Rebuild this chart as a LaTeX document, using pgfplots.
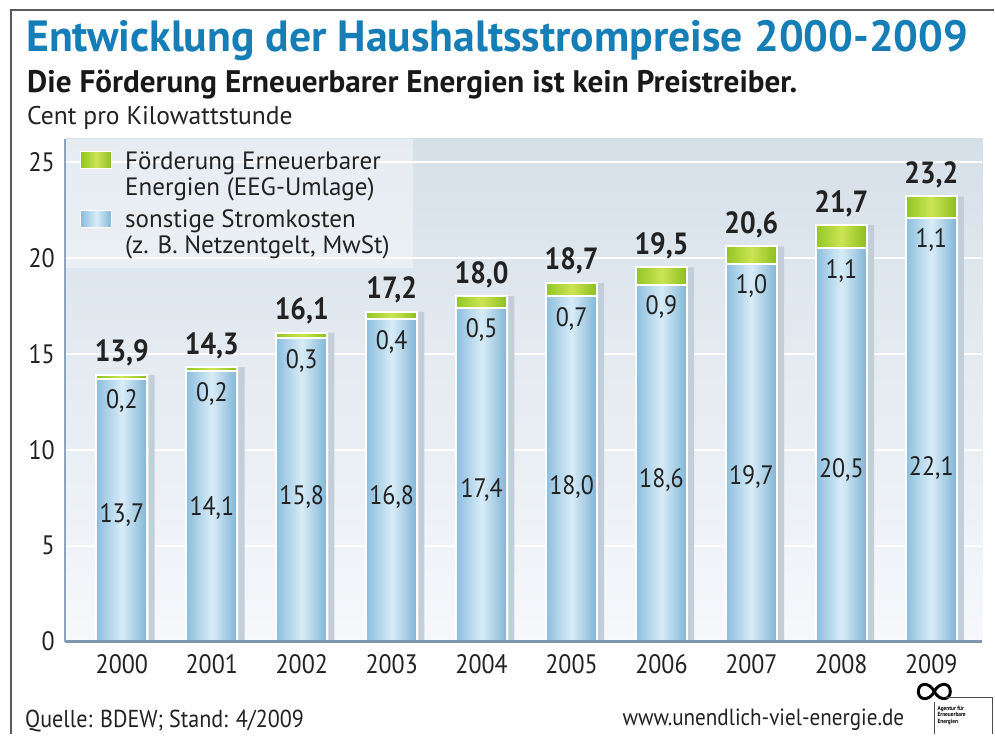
\documentclass[border=0pt]{standalone}
\usepackage{pgfplots}
\pgfplotsset{compat=1.18}
\usepackage{pgfplotstable}
\usepackage{fontspec}
\setmainfont{PT Sans}[FakeStretch=0.9]
\newfontfamily\wide{PT Sans}
\definecolor{titleblue}{RGB}{22,126,182}
\definecolor{txt}{RGB}{34,34,34}
\definecolor{bgtop}{RGB}{214,224,233}
\definecolor{bgbot}{RGB}{246,248,251}
\definecolor{axisline}{RGB}{126,152,178}
\definecolor{edgeline}{RGB}{140,164,188}
\definecolor{shadowc}{RGB}{196,206,217}
\definecolor{blueL}{RGB}{140,190,221}
\definecolor{blueM}{RGB}{216,236,247}
\definecolor{blueR}{RGB}{128,180,213}
\definecolor{greenL}{RGB}{146,198,36}
\definecolor{greenM}{RGB}{204,228,84}
\definecolor{greenR}{RGB}{138,190,30}

\pgfplotstableread{
x base total lab bl el tl
0 13.7 13.9 6.60 13,7 0,2 13,9
1 14.1 14.3 6.98 14,1 0,2 14,3
2 15.8 16.1 7.55 15,8 0,3 16,1
3 16.8 17.2 7.55 16,8 0,4 17,2
4 17.4 18.0 7.90 17,4 0,5 18,0
5 18.0 18.7 8.07 18,0 0,7 18,7
6 18.6 19.5 8.44 18,6 0,9 19,5
7 19.7 20.6 8.60 19,7 1,0 20,6
8 20.5 21.7 8.96 20,5 1,1 21,7
9 22.1 23.2 9.06 22,1 1,1 23,2
}\data

\begin{document}
\begin{tikzpicture}
\begin{scope}[x=0.75pt,y=-0.75pt]
\useasboundingbox (0,0) rectangle (995,735);
\fill[white] (0,0) rectangle (995,735);
\end{scope}
\begin{axis}[
  at={(48.75pt,-481.5pt)}, anchor=south west,
  width=688.5pt, height=377.25pt, scale only axis,
  xmin=-0.633, xmax=9.567, ymin=0, ymax=26.2,
  axis background/.style={top color=bgtop, bottom color=bgbot},
  axis line style={draw=none},
  major tick length=0pt,
  ytick={0,5,10,15,20,25},
  xtick={0,1,2,3,4,5,6,7,8,9},
  xticklabels={2000,2001,2002,2003,2004,2005,2006,2007,2008,2009},
  ymajorgrids, grid style={white, line width=1.5pt},
  ticklabel style={font=\fontsize{20}{24}\selectfont, text=txt},
  /pgf/number format/assume math mode=true,
  yticklabel style={anchor=east, inner sep=0pt, xshift=-7.5pt},
  xticklabel style={anchor=north, inner sep=0pt, yshift=-9.75pt},
  clip=false,
]
\addplot[ybar, bar width=0.067, bar shift=0.33, fill=shadowc, draw=none] table[x=x,y=total]{\data};
\pgfplotsinvokeforeach{0,1,2,3,4,5,6,7,8,9}{
\addplot[ybar, bar width=0.567, bar shift=0, draw=white, line width=1.5pt,
  left color=greenL, right color=greenR, middle color=greenM,
  x filter/.expression={x==#1 ? x : nan}] table[x=x,y=total]{\data};
}
\pgfplotsinvokeforeach{0,1,2,3,4,5,6,7,8,9}{
\addplot[ybar, bar width=0.567, bar shift=0, draw=white, line width=1.5pt,
  left color=blueL, right color=blueR, middle color=blueM,
  x filter/.expression={x==#1 ? x : nan}] table[x=x,y=base]{\data};
}
\draw[axisline, line width=2.25pt] (rel axis cs:0,0) -- (rel axis cs:1,0);
\draw[edgeline, line width=1.5pt] (rel axis cs:0,0) -- (rel axis cs:0,1);
\addplot[draw=none, nodes near coords, point meta=explicit symbolic,
  nodes near coords style={anchor=center, inner sep=0pt, font=\fontsize{20}{24}\selectfont, text=txt}]
  table[x=x,y=lab,meta=bl]{\data};
\addplot[draw=none, nodes near coords, point meta=explicit symbolic,
  nodes near coords style={anchor=north, inner sep=0pt, yshift=-8.25pt, font=\fontsize{20}{24}\selectfont, text=txt}]
  table[x=x,y=base,meta=el]{\data};
\addplot[draw=none, nodes near coords, point meta=explicit symbolic,
  nodes near coords style={anchor=base, inner sep=0pt, yshift=9.75pt, font=\bfseries\fontsize{23}{27}\selectfont, text=txt}]
  table[x=x,y=total,meta=tl]{\data};
\end{axis}
\begin{scope}[x=0.75pt,y=-0.75pt]
% frame
\draw[black!65, line width=1.1pt] (11,735) -- (11,10) -- (995,10);
% titles
\node[anchor=base west, inner sep=0pt, text=titleblue, font=\wide\bfseries\fontsize{32.8}{36}\selectfont] at (26,52) {Entwicklung der Haushaltsstrompreise 2000-2009};
\node[anchor=base west, inner sep=0pt, text=black!90, font=\wide\bfseries\fontsize{23.4}{26}\selectfont] at (27,93) {Die Förderung Erneuerbarer Energien ist kein Preistreiber.};
\node[anchor=base west, inner sep=0pt, text=txt, font=\wide\fontsize{19.2}{22}\selectfont] at (27,125) {Cent pro Kilowattstunde};
% legend
\fill[white, opacity=0.4] (66.5,139) rectangle (413,268);
\shade[left color=greenL, right color=greenR, middle color=greenM] (81,152) rectangle (112,169);
\draw[white, line width=0.75pt] (81,152) rectangle (112,169);
\shade[left color=blueL, right color=blueR, middle color=blueM] (81,211) rectangle (112,228);
\draw[white, line width=0.75pt] (81,211) rectangle (112,228);
\begin{scope}[every node/.style={anchor=base west, inner sep=0pt, text=txt, font=\wide\fontsize{18.8}{22}\selectfont}]
\node at (125,170) {Förderung Erneuerbarer};
\node at (125,196) {Energien (EEG-Umlage)};
\node at (125,228) {sonstige Stromkosten};
\node at (125,254) {(z. B. Netzentgelt, MwSt)};
\end{scope}
% footer
\node[anchor=base west, inner sep=0pt, text=txt, font=\fontsize{18.4}{22}\selectfont] at (25,728) {Quelle: BDEW; Stand: 4/2009};
\node[anchor=base east, inner sep=0pt, text=txt, font=\fontsize{17.6}{21}\selectfont] at (905,726) {www.unendlich-viel-energie.de};
% logo
\draw[black, line width=2.2pt] (935,692) .. controls (940,682) and (951,683) .. (951,692)
  .. controls (951,701) and (940,702) .. (935,692)
  .. controls (930,682) and (919,683) .. (919,692)
  .. controls (919,701) and (930,702) .. (935,692);
\draw[black!70, line width=0.6pt] (947,698) -- (993,698) -- (993,735);
\draw[black!70, line width=0.6pt] (935,703) -- (935,735);
\node[anchor=north west, inner sep=0pt, align=left, text=black, font=\bfseries\fontsize{4.5}{5}\selectfont] at (938,706) {Agentur für\\Erneuerbare\\Energien};
\end{scope}
\end{tikzpicture}
\end{document}
